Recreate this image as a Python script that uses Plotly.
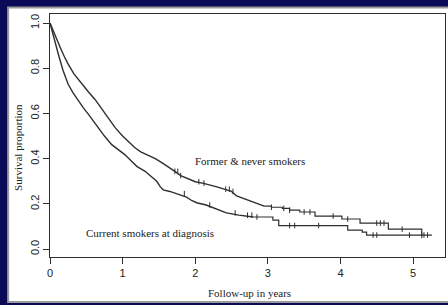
import plotly.graph_objects as go
import numpy as np

# Former & never smokers (Kaplan-Meier points)
former_t = [0, 0.05, 0.1, 0.15, 0.2, 0.25, 0.33, 0.44, 0.53, 0.62, 0.70, 0.76, 0.83, 0.90, 1.0,
            1.08, 1.17, 1.25, 1.35, 1.45, 1.55, 1.65, 1.72, 1.80, 1.90, 2.0, 2.1, 2.2, 2.3, 2.4,
            2.5, 2.57, 2.65, 2.75, 2.85, 2.95, 3.05, 3.2, 3.3, 3.44, 3.65, 4.02, 4.27, 4.66, 5.12]
former_s = [1.0, 0.96, 0.92, 0.885, 0.85, 0.818, 0.775, 0.729, 0.695, 0.662, 0.625, 0.596, 0.565,
            0.536, 0.50, 0.475, 0.448, 0.43, 0.415, 0.40, 0.38, 0.36, 0.344, 0.325, 0.31, 0.298,
            0.292, 0.285, 0.275, 0.265, 0.255, 0.235, 0.225, 0.215, 0.20, 0.19, 0.185, 0.18, 0.172,
            0.164, 0.146, 0.133, 0.115, 0.088, 0.06]
former_censor = [1.72, 1.76, 1.80, 2.05, 2.12, 2.42, 2.47, 2.52, 3.05, 3.22, 3.3, 3.5, 3.58,
                 3.9, 4.1, 4.5, 4.55, 4.6, 4.85, 5.12]

# Current smokers at diagnosis
current_t = [0, 0.04, 0.08, 0.115, 0.18, 0.25, 0.32, 0.39, 0.46, 0.53, 0.6, 0.665, 0.75, 0.85,
             0.94, 1.03, 1.12, 1.2, 1.31, 1.4, 1.47, 1.52, 1.56, 1.65, 1.75, 1.88, 1.95, 2.02,
             2.15, 2.3, 2.43, 2.6, 2.8, 3.07, 3.15, 3.99, 4.1, 4.3, 4.36, 5.26]
current_s = [1.0, 0.95, 0.90, 0.862, 0.79, 0.729, 0.69, 0.655, 0.625, 0.596, 0.565, 0.536, 0.50,
             0.462, 0.44, 0.418, 0.39, 0.365, 0.344, 0.32, 0.30, 0.275, 0.262, 0.255, 0.245,
             0.23, 0.215, 0.205, 0.195, 0.175, 0.16, 0.15, 0.142, 0.128, 0.104, 0.104, 0.084,
             0.075, 0.062, 0.062]
current_censor = [1.85, 2.2, 2.55, 2.72, 2.78, 2.85, 3.3, 3.37, 3.7, 4.45, 4.5, 4.95, 5.15, 5.2]

# time after which the curves show distinct steps
STEP_FROM = 3.0

x_ticks = [0, 1, 2, 3, 4, 5]
y_ticks = [0.0, 0.2, 0.4, 0.6, 0.8, 1.0]
y_tick_labels = ["0.0", "0.2", "0.4", "0.6", "0.8", "1.0"]

LINE = "#2e2e2e"
NAVY = "#0a0a56"


def step_at(ts, ss, x):
    idx = np.searchsorted(ts, x, side="right") - 1
    return [ss[i] for i in idx]


fig = go.Figure()
for t, s, c in [(former_t, former_s, former_censor), (current_t, current_s, current_censor)]:
    t = np.array(t)
    s = np.array(s)
    k = int(np.searchsorted(t, STEP_FROM))  # first index in step part
    fig.add_trace(go.Scatter(x=t[:k], y=s[:k], mode="lines",
                             line=dict(color=LINE, width=1.4, shape="linear"),
                             showlegend=False, hoverinfo="skip"))
    fig.add_trace(go.Scatter(x=t[k - 1:], y=s[k - 1:], mode="lines",
                             line=dict(color=LINE, width=1.2, shape="hv"),
                             showlegend=False, hoverinfo="skip"))
    fig.add_trace(go.Scatter(x=c, y=step_at(t, s, c), mode="markers",
                             marker=dict(symbol="line-ns", size=4, line=dict(color=LINE, width=1)),
                             showlegend=False, hoverinfo="skip"))

serif = "Liberation Serif, Times New Roman, serif"
sans = "Liberation Sans, Arial, sans-serif"

fig.update_layout(
    width=448, height=305,
    margin=dict(l=50, r=3, t=14, b=48),
    paper_bgcolor=NAVY, plot_bgcolor="white",
    shapes=[dict(type="rect", xref="paper", yref="paper", x0=-0.106, x1=1.03, y0=-0.185, y1=1.027,
                 fillcolor="white", line=dict(color="#9a9a9a", width=2), layer="below")],
    xaxis=dict(range=[0, 5.44], tickvals=x_ticks, ticks="outside", ticklen=6, tickcolor=LINE,
               showline=True, linecolor=LINE, linewidth=1, mirror=True, showgrid=False,
               zeroline=False, automargin=False,
               tickfont=dict(family=sans, size=11, color="#222")),
    yaxis=dict(range=[-0.035, 1.04], tickvals=y_ticks, ticktext=y_tick_labels, ticks="outside",
               ticklen=6, tickcolor=LINE, tickangle=-90,
               showline=True, linecolor=LINE, linewidth=1, mirror=True, showgrid=False,
               zeroline=False, automargin=False,
               tickfont=dict(family=sans, size=11, color="#222")),
    annotations=[
        dict(text="Former & never smokers", x=2.75, y=0.39, xref="x", yref="y", showarrow=False,
             font=dict(family=serif, size=11, color="#222")),
        dict(text="Current smokers at diagnosis", x=1.38, y=0.071, xref="x", yref="y",
             showarrow=False, font=dict(family=serif, size=11, color="#222")),
        dict(text="Follow-up in years", x=0.504, y=-0.148, xref="paper", yref="paper",
             showarrow=False, xanchor="center", yanchor="middle",
             font=dict(family=serif, size=11, color="#222")),
        dict(text="Survival proportion", x=-0.081, y=0.449, xref="paper", yref="paper",
             showarrow=False, textangle=-90, xanchor="center", yanchor="middle",
             font=dict(family=serif, size=11, color="#222")),
    ],
)

fig.write_html("out.html", config={"displayModeBar": False},
               post_script="document.body.style.margin='0';document.body.style.padding='0';"
                           "document.body.style.background='%s';" % NAVY)
